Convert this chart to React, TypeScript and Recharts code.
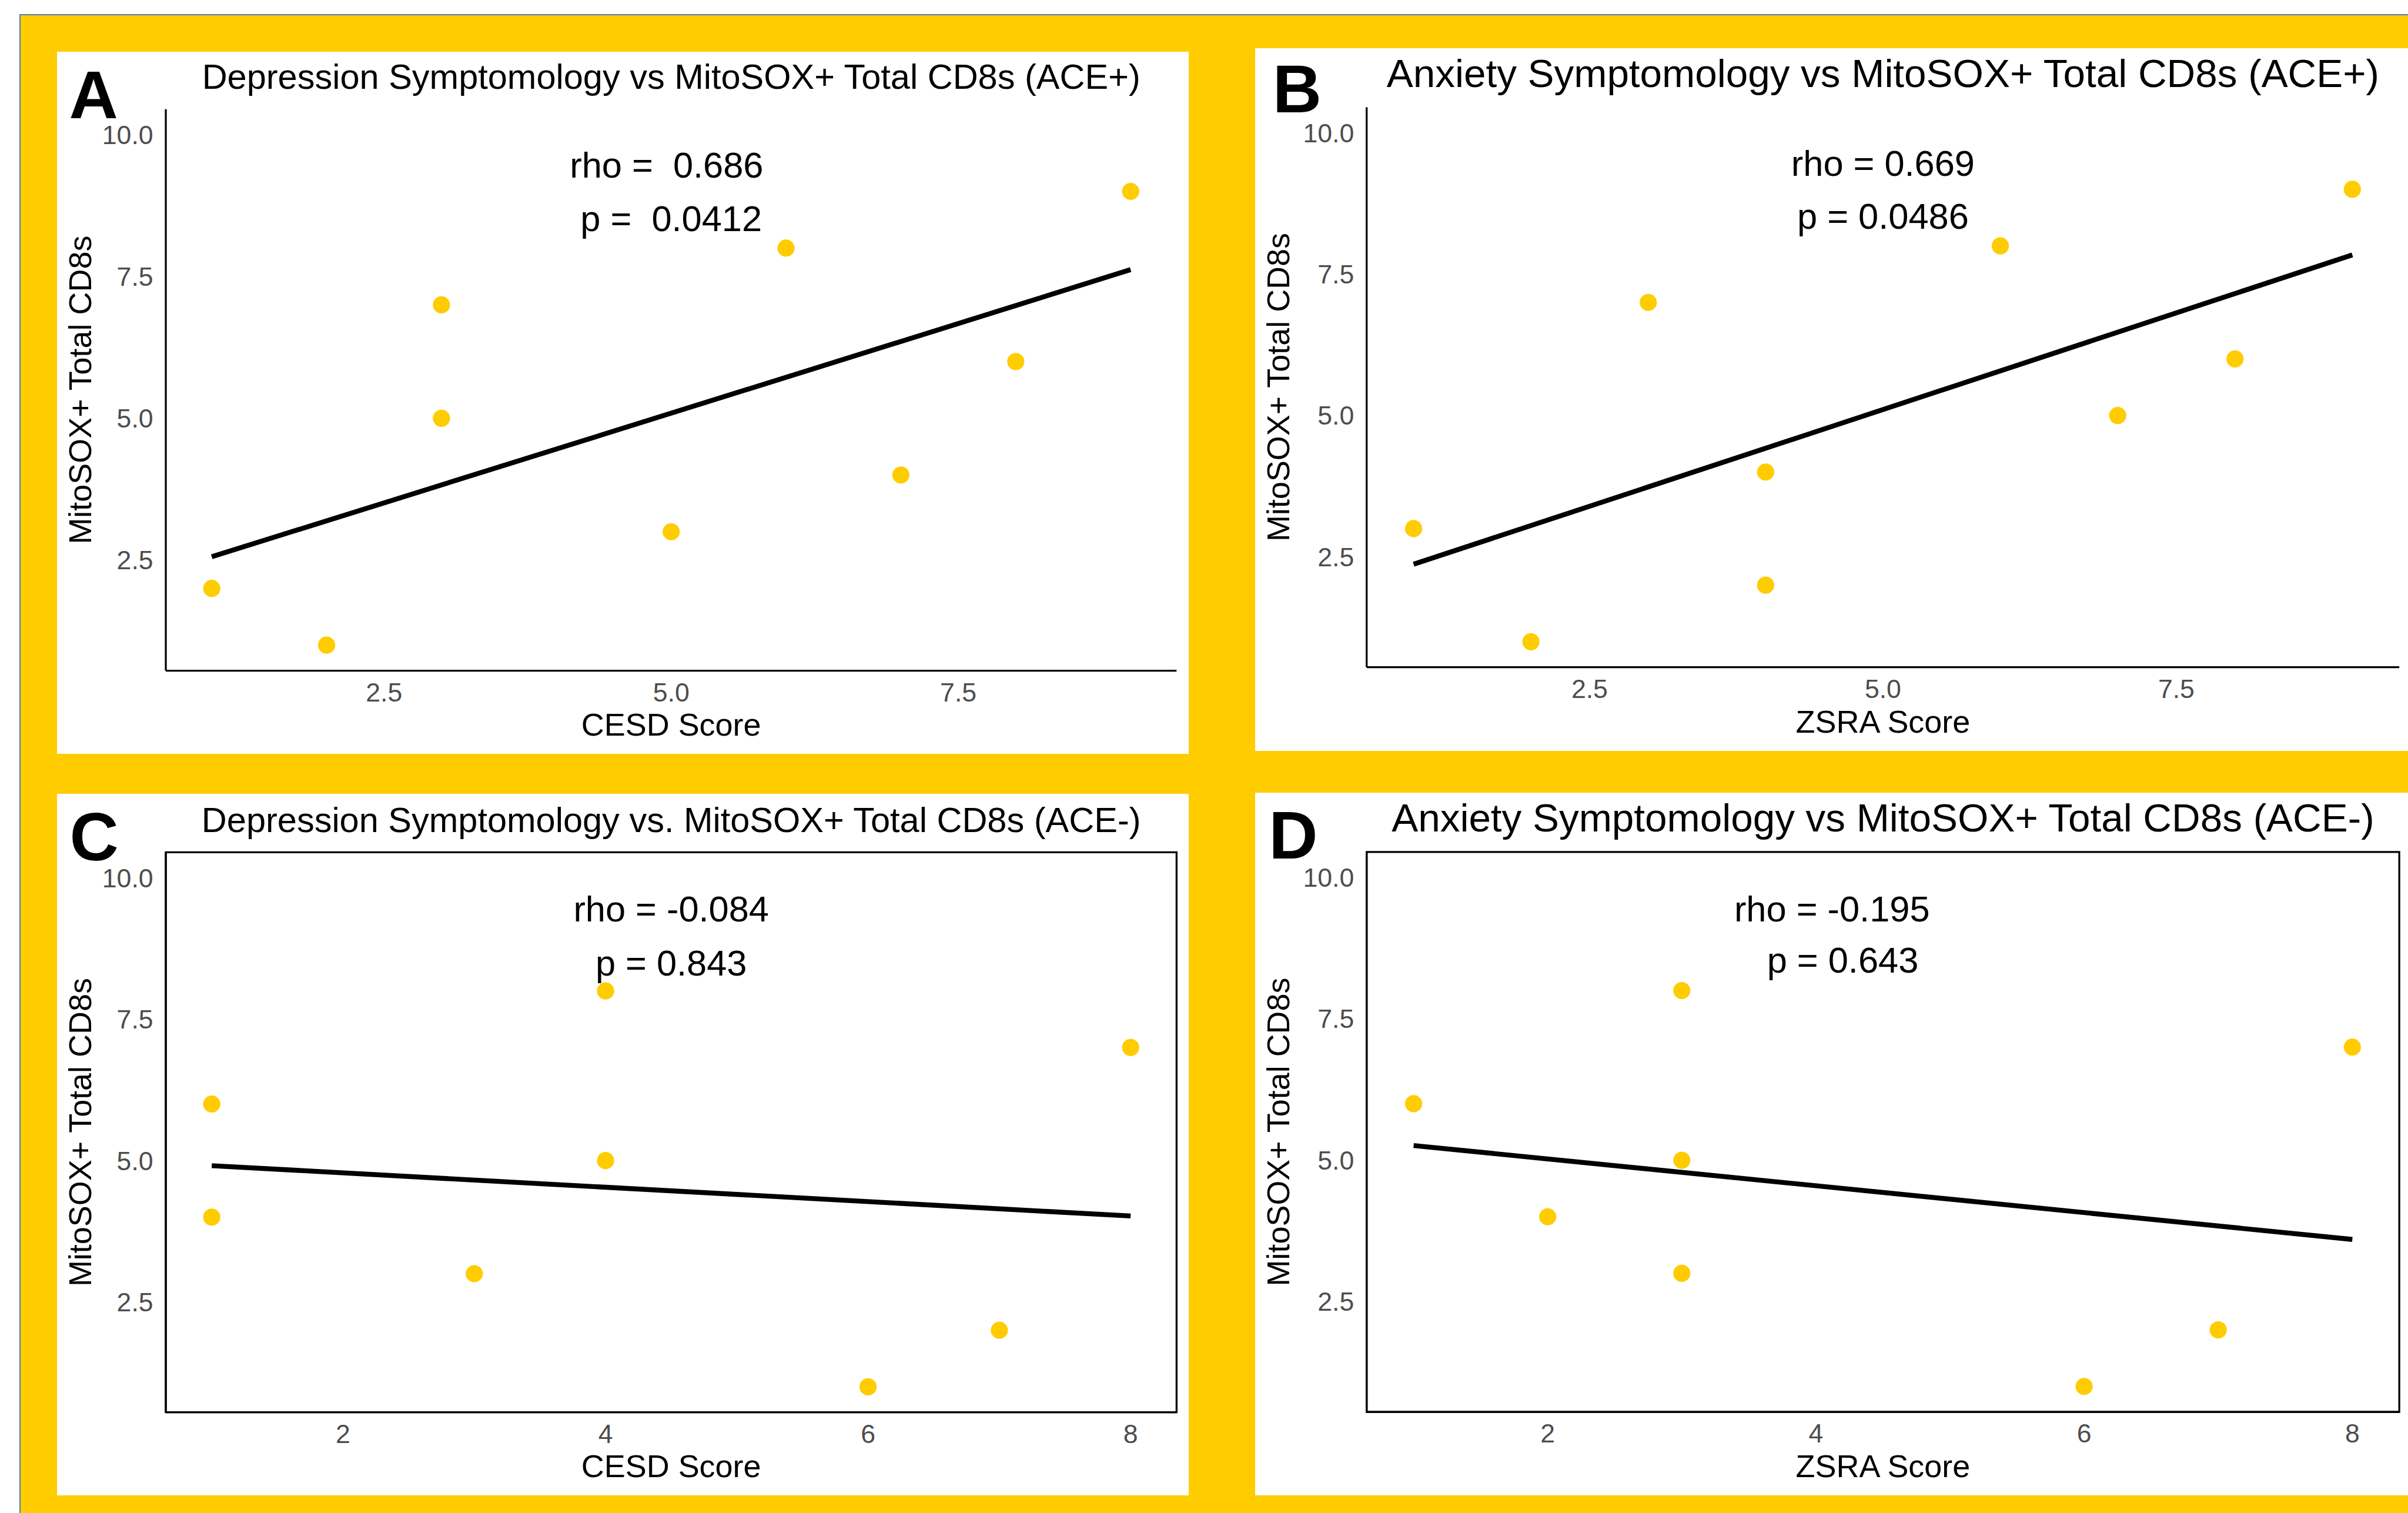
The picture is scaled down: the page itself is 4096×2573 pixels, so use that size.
import {
  ReferenceArea,
  ReferenceLine,
  Scatter,
  ScatterChart,
  XAxis,
  YAxis,
} from "recharts"

// everything below is measured on the 4405 px wide reference, then scaled
const S = 4096 / 4405
const k = (v: number) => v * S

const GOLD = "#FFCC00"
const BLUE = "#4A7EBB"
const TICK_GREY = "#4D4D4D"
const FONT = '"Liberation Sans", Arial, Helvetica, sans-serif'

// ---- data ----
const yTicks = [2.5, 5, 7.5, 10]
const yDomain: [number, number] = [0.55, 10.45]
const xTicksDecimal = [2.5, 5, 7.5]
const xTicksInt = [2, 4, 6, 8]

// A: CESD vs MitoSOX+ (ACE+)
const cesdPos = [1, 2, 3, 3, 5, 6, 7, 8, 9]
const mitoCesdPos = [2, 1, 7, 5, 3, 8, 4, 6, 9]
const fitCesdPos = [{ x: 1, y: 2.56 }, { x: 9, y: 7.62 }]
const notesCesdPos = [
  { x: 4.96, y: 9.475, label: "rho =  0.686" },
  { x: 5.0, y: 8.53, label: "p =  0.0412" },
]

// B: ZSRA vs MitoSOX+ (ACE+)
const zsraPos = [1, 2, 3, 4, 4, 6, 7, 8, 9]
const mitoZsraPos = [3, 1, 7, 4, 2, 8, 5, 6, 9]
const fitZsraPos = [{ x: 1, y: 2.37 }, { x: 9, y: 7.84 }]
const notesZsraPos = [
  { x: 5.0, y: 9.47, label: "rho = 0.669" },
  { x: 5.0, y: 8.53, label: "p = 0.0486" },
]

// C: CESD vs MitoSOX+ (ACE-)
const cesdNeg = [1, 1, 3, 4, 4, 6, 7, 8]
const mitoCesdNeg = [6, 4, 3, 8, 5, 1, 2, 7]
const fitCesdNeg = [{ x: 1, y: 4.91 }, { x: 8, y: 4.02 }]
const notesCesdNeg = [
  { x: 4.5, y: 9.46, label: "rho = -0.084" },
  { x: 4.5, y: 8.5, label: "p = 0.843" },
]

// D: ZSRA vs MitoSOX+ (ACE-)
const zsraNeg = [1, 2, 3, 3, 3, 6, 7, 8]
const mitoZsraNeg = [6, 4, 8, 5, 3, 1, 2, 7]
const fitZsraNeg = [{ x: 1, y: 5.26 }, { x: 8, y: 3.6 }]
const notesZsraNeg = [
  { x: 4.12, y: 9.45, label: "rho = -0.195" },
  { x: 4.2, y: 8.55, label: "p = 0.643" },
]

interface Note {
  x: number
  y: number
  label: string
}

interface PanelProps {
  box: { x: number; y: number; w: number; h: number }
  margin: { l: number; t: number; r: number; b: number }
  letter: string
  letterPos: { x: number; y: number }
  titleY: number
  titleSize: number
  title: string
  xLabel: string
  xs: number[]
  ys: number[]
  fit: { x: number; y: number }[]
  notes: Note[]
  xDomain: [number, number]
  xTicks: number[]
  decimals: number
  boxed?: boolean
}

function Panel({
  box,
  margin,
  letter,
  letterPos,
  titleY,
  titleSize,
  title,
  xLabel,
  xs,
  ys,
  fit,
  notes,
  xDomain,
  xTicks,
  decimals,
  boxed,
}: PanelProps) {
  const points = xs.map((x, i) => ({ x, y: ys[i] }))
  const lineW = k(3.5)
  const plotCenter = margin.l + (box.w - margin.l - margin.r) / 2

  return (
    <div
      style={{
        position: "absolute",
        left: k(box.x),
        top: k(box.y),
        width: k(box.w),
        height: k(box.h),
        background: "#fff",
      }}
    >
      <ScatterChart
        width={k(box.w)}
        height={k(box.h)}
        margin={{ top: k(margin.t), right: k(margin.r), bottom: 0, left: 0 }}
      >
        <XAxis
          type="number"
          dataKey="x"
          domain={xDomain}
          ticks={xTicks}
          interval={0}
          allowDataOverflow
          height={k(margin.b)}
          tickLine={false}
          tickSize={0}
          tickMargin={k(22)}
          tickFormatter={(v: number) => v.toFixed(decimals)}
          tick={{ fill: TICK_GREY, fontSize: k(48), fontFamily: FONT }}
          axisLine={{ stroke: "#000", strokeWidth: lineW }}
          label={{
            value: xLabel,
            position: "insideBottom",
            offset: k(33.5),
            fill: "#000",
            fontSize: k(58),
            fontFamily: FONT,
          }}
        />
        <YAxis
          type="number"
          dataKey="y"
          domain={yDomain}
          ticks={yTicks}
          interval={0}
          allowDataOverflow
          width={k(margin.l)}
          tickLine={false}
          tickSize={0}
          tickMargin={k(23)}
          tickFormatter={(v: number) => v.toFixed(1)}
          tick={{ fill: TICK_GREY, fontSize: k(48), fontFamily: FONT }}
          axisLine={{ stroke: "#000", strokeWidth: lineW }}
          label={{
            value: "MitoSOX+ Total CD8s",
            angle: -90,
            position: "insideLeft",
            offset: k(42),
            fill: "#000",
            fontSize: k(58),
            fontFamily: FONT,
            style: { textAnchor: "middle" },
          }}
        />
        {boxed && (
          <ReferenceArea
            x1={xDomain[0]}
            x2={xDomain[1]}
            y1={yDomain[0]}
            y2={yDomain[1]}
            fill="none"
            stroke="#000"
            strokeWidth={lineW}
            ifOverflow="visible"
          />
        )}
        <Scatter
          data={points}
          isAnimationActive={false}
          shape={(p: any) => (
            <circle cx={p.cx} cy={p.cy} r={k(15.7)} fill={GOLD} />
          )}
        />
        <ReferenceLine
          segment={fit}
          stroke="#000"
          strokeWidth={k(9)}
          ifOverflow="visible"
        />
        <Scatter
          data={notes}
          isAnimationActive={false}
          shape={(p: any) => (
            <text
              x={p.cx}
              y={p.cy}
              dy="0.36em"
              textAnchor="middle"
              fontSize={k(66)}
              fontFamily={FONT}
              fill="#000"
              style={{ whiteSpace: "pre" }}
            >
              {p.payload.label}
            </text>
          )}
        />
      </ScatterChart>
      <svg
        width={k(box.w)}
        height={k(box.h)}
        style={{ position: "absolute", left: 0, top: 0, pointerEvents: "none" }}
      >
        <text
          x={k(letterPos.x)}
          y={k(letterPos.y)}
          fontSize={k(124)}
          fontWeight="bold"
          fontFamily={FONT}
          fill="#000"
        >
          {letter}
        </text>
        <text
          x={k(plotCenter)}
          y={k(titleY)}
          textAnchor="middle"
          fontSize={k(titleSize)}
          fontFamily={FONT}
          fill="#000"
        >
          {title}
        </text>
      </svg>
    </div>
  )
}

export default function App() {
  return (
    <div
      style={{
        position: "absolute",
        left: 0,
        top: 0,
        width: 4096,
        height: 2573,
        background: "#fff",
        overflow: "hidden",
        fontFamily: FONT,
      }}
    >
      <div
        style={{
          position: "absolute",
          left: k(35),
          top: k(26),
          right: 0,
          bottom: 0,
          background: GOLD,
          borderLeft: `2px solid ${BLUE}`,
          borderTop: `2px solid ${BLUE}`,
        }}
      />
      <Panel
        box={{ x: 104, y: 95, w: 2071, h: 1284 }}
        margin={{ l: 199, t: 105, r: 23, b: 152 }}
        letter="A"
        letterPos={{ x: 22, y: 121.5 }}
        titleY={68}
        titleSize={64}
        title="Depression Symptomology vs MitoSOX+ Total CD8s (ACE+)"
        xLabel="CESD Score"
        xs={cesdPos}
        ys={mitoCesdPos}
        fit={fitCesdPos}
        notes={notesCesdPos}
        xDomain={[0.6, 9.4]}
        xTicks={xTicksDecimal}
        decimals={1}
      />
      <Panel
        box={{ x: 2296, y: 88, w: 2109, h: 1285 }}
        margin={{ l: 204, t: 108, r: 16, b: 153 }}
        letter="B"
        letterPos={{ x: 32, y: 117 }}
        titleY={70.5}
        titleSize={72.5}
        title="Anxiety Symptomology vs MitoSOX+ Total CD8s (ACE+)"
        xLabel="ZSRA Score"
        xs={zsraPos}
        ys={mitoZsraPos}
        fit={fitZsraPos}
        notes={notesZsraPos}
        xDomain={[0.6, 9.4]}
        xTicks={xTicksDecimal}
        decimals={1}
      />
      <Panel
        box={{ x: 104, y: 1452, w: 2071, h: 1283 }}
        margin={{ l: 199, t: 107, r: 23, b: 152 }}
        letter="C"
        letterPos={{ x: 23, y: 121 }}
        titleY={70}
        titleSize={64}
        title="Depression Symptomology vs. MitoSOX+ Total CD8s (ACE-)"
        xLabel="CESD Score"
        xs={cesdNeg}
        ys={mitoCesdNeg}
        fit={fitCesdNeg}
        notes={notesCesdNeg}
        xDomain={[0.65, 8.35]}
        xTicks={xTicksInt}
        decimals={0}
        boxed
      />
      <Panel
        box={{ x: 2296, y: 1450, w: 2109, h: 1285 }}
        margin={{ l: 204, t: 108.5, r: 16, b: 152.5 }}
        letter="D"
        letterPos={{ x: 25, y: 120 }}
        titleY={70.5}
        titleSize={72.5}
        title="Anxiety Symptomology vs MitoSOX+ Total CD8s (ACE-)"
        xLabel="ZSRA Score"
        xs={zsraNeg}
        ys={mitoZsraNeg}
        fit={fitZsraNeg}
        notes={notesZsraNeg}
        xDomain={[0.65, 8.35]}
        xTicks={xTicksInt}
        decimals={0}
        boxed
      />
    </div>
  )
}
